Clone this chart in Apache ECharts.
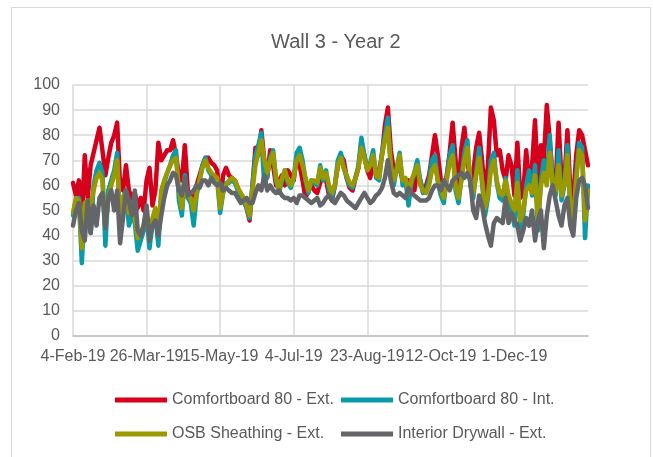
<!DOCTYPE html>
<html>
<head>
<meta charset="utf-8">
<script src="https://cdn.jsdelivr.net/npm/echarts@6/dist/echarts.min.js"></script>
<style>
  html, body { margin: 0; padding: 0; background: #ffffff; }
  #wrap { position: relative; width: 653px; height: 457px; overflow: hidden; background: #fff; }
  #frame { position: absolute; left: 11px; top: 7px; width: 640px; height: 470px; border: 1.5px solid #d9d9d9; box-sizing: border-box; }
  #chart { position: absolute; left: 0; top: 0; width: 653px; height: 457px; }
</style>
</head>
<body>
<div id="wrap">
  <div id="frame"></div>
  <div id="chart"></div>
</div>
<script>
const titleText = 'Wall 3 - Year 2';
const tickLabels = ['4-Feb-19','26-Mar-19','15-May-19','4-Jul-19','23-Aug-19','12-Oct-19','1-Dec-19'];
const seriesNames = ['Comfortboard 80 - Ext.','Comfortboard 80 - Int.','OSB Sheathing - Ext.','Interior Drywall - Ext.'];

// days since 4-Feb-19
const days = [0,2,4,6,8,10,12,14,16,18,20,22,24,26,28,30,32,34,36,38,40,42,44,46,48,50,52,54,56,58,60,62,64,66,68,70,72,74,76,78,
80,82,84,86,88,90,92,94,96,98,100,102,104,106,108,110,112,114,116,118,120,122,124,126,128,130,132,134,136,138,140,142,144,146,148,150,152,
154,156,158,160,162,164,166,168,170,172,174,176,178,180,182,184,186,188,190,192,194,196,198,200,202,204,206,208,210,212,214,216,218,220,222,224,226,228,230,232,234,
236,238,240,242,244,246,248,250,252,254,256,258,260,262,264,266,268,270,272,274,276,278,280,282,284,286,288,290,292,294,296,298,300,302,304,306,308,310,312,314,316,318,320,322,324,326,328,330,332,334,336,338,340,342,344,346,348,350];

const cbExt = [61,56,62,46,72,55,68,73,78,83, 74,64,71,77,80,85,60,58,68,58, 55,57,51,55,50,62,67,52,58,77, 70,72,74,74,78,72,64,62,76,58,
56,52,60,64,68,71,71,69,68,66, 53,64,67,64,63,62,59,56,54,51, 46,60,75,72,82,70,63,74,68,60, 62,64,60,66,64,62,71,
68,62,55,58,60,58,57,61,64,62, 56,54,60,68,72,70,63,59,58,63, 67,77,72,66,63,70,64,66,72,84, 91,74,66,67,67,62,60,62,60,58, 66,
62,57,60,64,72,80,72,62,57,64, 73,85,70,58,75,83,70,62,65,75, 81,70,56,68,91,86,72,74,66,62, 72,68,56,77,55,57,74,60,68,86, 60,76,70,92,78,62,60,85,62,62, 82,58,55,72,82,80,74,68];

const cbInt = [48,54,55,29,52,52,41,60,66,69, 65,36,58,62,66,73,45,55,58,44, 48,45,34,38,42,48,35,45,48,36, 57,61,65,68,72,74,54,48,64,55,
53,44,56,62,68,71,66,64,63,62, 49,57,61,61,62,61,58,56,54,51, 47,60,72,76,81,60,64,71,74,62, 57,62,66,61,59,63,73,
75,70,62,57,62,61,60,68,62,66, 58,55,60,70,73,67,63,60,59,63, 68,79,72,66,69,74,63,62,73,80, 87,66,60,67,73,60,62,52,61,65, 70,
62,57,58,62,70,72,61,56,53,63, 72,76,58,53,63,73,78,60,55,65, 75,61,48,55,70,73,61,55,54,63, 54,50,44,66,42,48,60,66,56,68, 42,62,70,62,80,60,56,74,54,60, 76,50,43,64,77,75,39,60];

const osbExt = [49,55,54,35,53,54,52,58,63,65, 62,43,55,60,64,70,47,55,57,49, 49,47,39,41,44,50,40,47,51,42, 58,62,65,68,70,71,58,51,62,56,
55,50,57,62,67,70,67,65,64,63, 51,57,60,62,63,62,59,57,55,52, 48,58,68,73,78,70,65,70,73,63, 58,63,66,62,60,63,70,
72,68,63,58,62,62,61,67,63,65, 60,57,60,68,71,67,64,61,60,63, 67,75,71,66,68,72,64,63,72,78, 83,68,62,66,72,62,63,57,62,65, 68,
60,58,57,60,66,68,62,58,55,62, 69,72,60,55,62,70,75,62,57,64, 71,62,51,56,66,70,62,57,56,62, 56,53,50,61,46,50,58,60,57,64, 46,60,65,60,73,61,58,68,56,60, 72,52,47,62,74,72,46,58];

const dwExt = [44,50,53,42,38,54,41,52,44,55, 57,43,55,58,50,58,37,47,58,54, 48,58,42,40,44,52,38,44,46,40, 48,55,60,62,65,64,58,56,63,56,
57,58,60,59,62,62,60,63,61,60, 61,58,59,58,57,57,55,53,54,55, 53,53,57,60,58,64,58,60,58,57, 58,56,55,55,54,55,53,
56,56,55,54,53,54,55,52,53,55, 56,54,53,55,57,56,54,53,52,51, 53,55,57,55,53,54,56,57,59,63, 70,62,57,56,57,56,55,59,57,56, 55,
54,54,54,55,58,60,60,58,62,60, 58,62,63,64,65,63,65,62,50,47, 56,52,45,40,36,45,47,46,45,55, 45,49,46,44,38,42,47,44,50,38, 46,50,35,48,56,60,54,48,44,52, 55,44,40,55,62,63,60,51];

const colors = ['#d5001c', '#0a9aa8', '#9a9a00', '#636569'];
const values = [cbExt, cbInt, osbExt, dwExt];
const FONT = '"Liberation Sans", Arial, sans-serif';

const chart = echarts.init(document.getElementById('chart'), null, { renderer: 'canvas' });

const series = seriesNames.map((name, k) => ({
  name: name,
  type: 'line',
  showSymbol: false,
  symbol: 'none',
  lineStyle: { width: 4.5, color: colors[k], join: 'round', cap: 'round' },
  itemStyle: { color: colors[k] },
  data: days.map((d, i) => [d, values[k][i]]),
  z: 2 + k,
  animation: false
}));

const legendCommon = {
  orient: 'vertical',
  icon: 'rect',
  itemWidth: 52,
  itemHeight: 5,
  itemGap: 18,
  padding: 0,
  top: 392,
  textStyle: { fontSize: 16, color: '#595959', fontFamily: FONT },
  selectedMode: false
};

chart.setOption({
  backgroundColor: 'transparent',
  animation: false,
  color: colors,
  title: {
    text: titleText,
    left: 266,
    top: 27,
    textStyle: { fontSize: 20, fontWeight: 'normal', color: '#595959', fontFamily: FONT }
  },
  legend: [
    Object.assign({}, legendCommon, { left: 115, data: [seriesNames[0], seriesNames[2]] }),
    Object.assign({}, legendCommon, { left: 341, data: [seriesNames[1], seriesNames[3]] })
  ],
  grid: { left: 73, right: 65, top: 85, bottom: 121, containLabel: false },
  xAxis: {
    type: 'value',
    min: 0,
    max: 350,
    interval: 50,
    axisLine: { show: true, lineStyle: { color: '#bfbfbf', width: 1.5 } },
    axisTick: { show: false },
    splitLine: { show: true, showMinLine: false, showMaxLine: false, lineStyle: { color: '#d9d9d9', width: 1.5 } },
    axisLabel: {
      margin: 13,
      fontSize: 16,
      color: '#595959',
      fontFamily: FONT,
      showMaxLabel: false,
      formatter: function (v) { const i = Math.round(v / 50); return tickLabels[i] !== undefined ? tickLabels[i] : ''; }
    }
  },
  yAxis: {
    type: 'value',
    min: 0,
    max: 100,
    interval: 10,
    axisLine: { show: true, lineStyle: { color: '#d9d9d9', width: 1.5 } },
    axisTick: { show: false },
    splitLine: { show: true, lineStyle: { color: '#d9d9d9', width: 1.5 } },
    axisLabel: { margin: 13, fontSize: 16, color: '#595959', fontFamily: FONT }
  },
  series: series
});
</script>
</body>
</html>
